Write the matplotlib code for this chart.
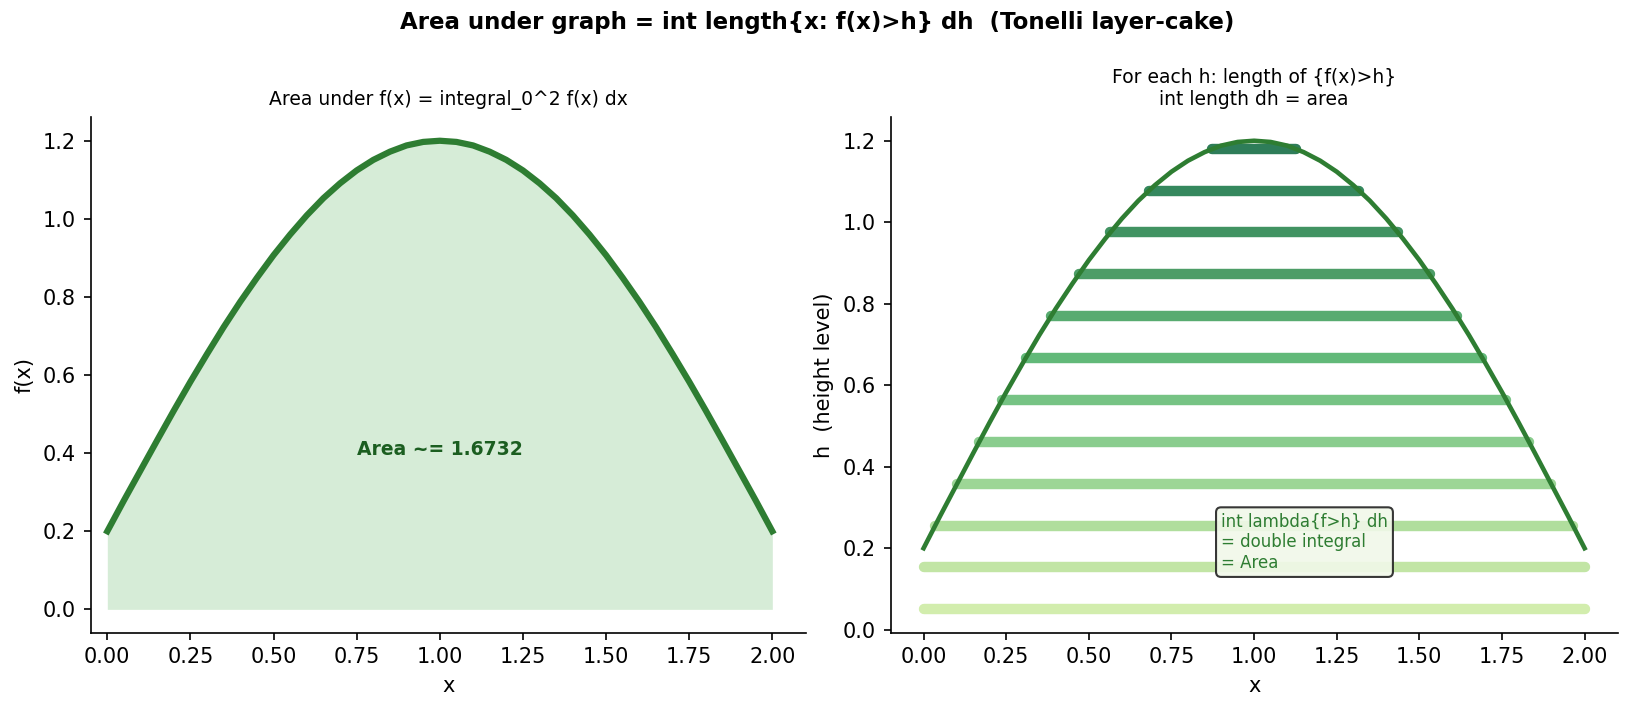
import numpy as np
import matplotlib
matplotlib.use("Agg")
import matplotlib.pyplot as plt

X_WERTE = [0.00, 0.05, 0.10, 0.15, 0.20, 0.25, 0.30, 0.35, 0.40, 0.45,
           0.50, 0.55, 0.60, 0.65, 0.70, 0.75, 0.80, 0.85, 0.90, 0.95,
           1.00, 1.05, 1.10, 1.15, 1.20, 1.25, 1.30, 1.35, 1.40, 1.45,
           1.50, 1.55, 1.60, 1.65, 1.70, 1.75, 1.80, 1.85, 1.90, 1.95, 2.00]
F_WERTE = [0.200, 0.279, 0.356, 0.433, 0.509, 0.583, 0.654, 0.723, 0.788, 0.849,
           0.907, 0.960, 1.009, 1.053, 1.091, 1.124, 1.151, 1.172, 1.188, 1.197,
           1.200, 1.197, 1.188, 1.172, 1.151, 1.124, 1.091, 1.053, 1.009, 0.960,
           0.907, 0.849, 0.788, 0.723, 0.654, 0.583, 0.509, 0.433, 0.356, 0.279, 0.200]

# Schichten {f(x) > h}
H_STUFEN = [0.050, 0.153, 0.255, 0.358, 0.461, 0.564, 0.666, 0.769, 0.872, 0.975, 1.077, 1.180]
X_LINKS = [0.000, 0.000, 0.035, 0.101, 0.168, 0.237, 0.309, 0.385, 0.469, 0.564, 0.682, 0.872]
X_RECHTS = [2.000, 2.000, 1.965, 1.899, 1.832, 1.763, 1.691, 1.615, 1.531, 1.436, 1.318, 1.128]

FLAECHE = 1.6732

fig = plt.figure(figsize=(1634 / 150, 711 / 150), dpi=150)
ax1 = fig.add_axes([0.0555, 0.110, 0.4375, 0.725])
ax2 = fig.add_axes([0.545, 0.110, 0.445, 0.725])
fig.suptitle("Area under graph = int length{x: f(x)>h} dh  (Tonelli layer-cake)",
             fontsize=11, fontweight="bold", y=0.984)

# 1) Flaeche unter f
ax1.fill_between(X_WERTE, 0, F_WERTE, color="#a5d6a7", alpha=0.45, linewidth=0)
ax1.plot(X_WERTE, F_WERTE, color="#2e7d32", linewidth=3)
ax1.text(1.0, 0.41, f"Area ~= {FLAECHE:.4f}", ha="center", va="center",
         fontsize=9, fontweight="bold", color="#1b5e20")
ax1.set_xlim(-0.05, 2.1)
ax1.set_title("Area under f(x) = integral_0^2 f(x) dx", fontsize=9)
ax1.set_xlabel("x")
ax1.set_ylabel("f(x)")

# 2) Schichten
farben = plt.cm.YlGn(np.linspace(0.3, 0.9, len(H_STUFEN)))
for h, a, b, c in zip(H_STUFEN, X_LINKS, X_RECHTS, farben):
    ax2.plot([a, b], [h, h], color=c, linewidth=5, alpha=0.82, solid_capstyle="round")
ax2.plot(X_WERTE, F_WERTE, color="#2e7d32", linewidth=2.2)
ax2.text(0.9, 0.215, "int lambda{f>h} dh\n= double integral\n= Area", fontsize=8,
         color="#2e7d32", va="center", ha="left", zorder=5,
         bbox=dict(boxstyle="round,pad=0.3", facecolor="#f1f8e9", edgecolor="#222222", alpha=0.9))
ax2.set_title("For each h: length of {f(x)>h}\nint length dh = area", fontsize=9)
ax2.set_xlabel("x")
ax2.set_ylabel("h  (height level)")

for ax in (ax1, ax2):
    ax.spines["top"].set_visible(False)
    ax.spines["right"].set_visible(False)
    ax.set_xticks([0, 0.25, 0.5, 0.75, 1.0, 1.25, 1.5, 1.75, 2.0])

fig.savefig("out.png", dpi=150)
